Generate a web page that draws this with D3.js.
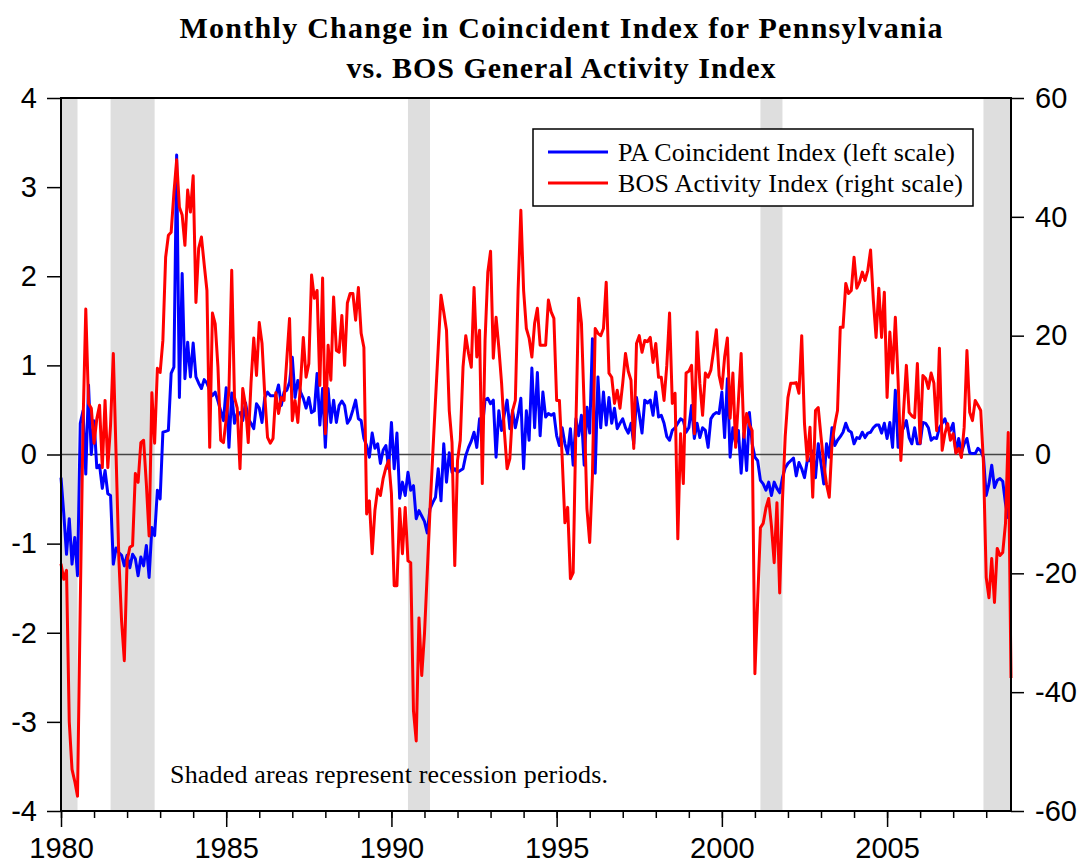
<!DOCTYPE html>
<html lang="en">
<head>
<meta charset="UTF-8">
<title>PA Coincident Index vs BOS Activity Index</title>
<script src="https://d3js.org/d3.v7.min.js"></script>
<style>
  body { margin: 0; background: #fff; }
  text { fill: #000; }
</style>
</head>
<body>
<script>
// monthly values, Jan 1980 onward
var paIndex = [
  -0.26, -0.66, -1.12, -0.72, -1.23, -0.93, -1.36, 0.35, 0.49, -0.22, 0.78, 0,
  0.38, -0.15, -0.12, -0.38, -0.18, -0.44, -0.46, -1.23, -1.05, -1.1, -1.13, -1.25,
  -1.13, -1.27, -1.12, -1.17, -1.36, -1.15, -1.25, -1.02, -1.38, -0.82, -0.91, -0.4,
  -0.5, 0.25, 0.26, 0.27, 0.91, 0.98, 3.36, 0.64, 2.03, 0.85, 1.26, 0.87,
  1.25, 0.87, 0.8, 0.74, 0.84, 0.8, 0.72, 0.66, 0.7, 0.6, 0.49, 0.38,
  0.75, 0.08, 0.69, 0.35, 0.46, 0.47, 0.38, 0.58, 0.4, 0.35, 0.29, 0.57,
  0.52, 0.36, 0.64, 0.7, 0.66, 0.66, 0.66, 0.78, 0.55, 0.7, 0.72, 0.81,
  1.09, 0.64, 0.83, 0.7, 0.63, 0.52, 0.64, 0.47, 0.49, 0.91, 0.33, 0.74,
  0.08, 0.74, 0.36, 0.61, 0.36, 0.55, 0.6, 0.55, 0.35, 0.4, 0.5, 0.61,
  0.4, 0.38, 0.18, 0.1, -0.03, 0.24, 0.07, 0.12, -0.1, 0.05, 0.1, -0.16,
  0.36, -0.16, 0.24, -0.49, -0.31, -0.46, -0.2, -0.4, -0.35, -0.72, -0.63, -0.69,
  -0.75, -0.88, -0.61, -0.54, -0.48, -0.16, -0.52, 0.12, -0.31, 0.02, -0.2, -0.16,
  -0.2, -0.18, -0.16, -0.01, 0.08, 0.15, 0.25, 0.08, 0.4, 0.3, 0.61, 0.63,
  0.57, 0.61, -0.03, 0.49, 0.27, 0.45, 0.61, 0.29, 0.49, 0.3, 0.45, 0.63,
  -0.16, 0.49, 0.16, 0.97, 0.3, 0.92, 0.21, 0.7, 0.42, 0.46, 0.44, 0.46,
  0.21, 0.1, 0.3, 0.12, 0.01, 0.29, -0.12, 0.4, 0.21, 0.44, -0.12, 0.53,
  0.24, 1.3, -0.21, 0.87, 0.3, 0.7, 0.33, 0.64, 0.35, 0.52, 0.29, 0.35,
  0.4, 0.3, 0.24, 0.35, 0.12, 0.64, 0.45, 0.24, 0.61, 0.58, 0.61, 0.44,
  0.7, 0.42, 0.44, 0.35, 0.2, 0.16, 0.27, 0.3, 0.35, 0.4, 0.38, 0.25,
  0.3, 0.55, 0.18, 0.35, 0.19, 0.3, 0.27, 0.08, 0.4, 0.45, 0.47, 0.46,
  0.7, 0.19, 0.85, -0.03, 0.3, 0.12, 0.27, -0.21, 0.24, -0.18, 0.47, 0.12,
  -0.03, -0.07, -0.29, -0.33, -0.4, -0.31, -0.46, -0.31, -0.38, -0.43, -0.26, -0.15,
  -0.1, -0.07, -0.04, -0.24, -0.09, -0.16, -0.26, -0.07, -0.07, 0.04, -0.26, 0.12,
  -0.1, -0.33, 0.12, -0.03, 0.3, 0.1, 0.16, 0.2, 0.25, 0.35, 0.27, 0.25,
  0.12, 0.19, 0.18, 0.25, 0.19, 0.24, 0.25, 0.3, 0.33, 0.33, 0.24, 0.35,
  0.18, 0.36, 0.08, 0.72, 0.08, 0.24, 0.3, 0.38, 0.19, 0.12, 0.3, 0.12,
  0.12, 0.36, 0.35, 0.3, 0.16, 0.19, 0.18, 0.3, 0.35, 0.4, 0.3, 0.27,
  0.35, 0.02, 0.18, 0.02, 0.12, 0.18, 0.02, 0.01, 0.01, 0.07, 0.04, -0.03,
  -0.46, -0.33, -0.12, -0.37, -0.29, -0.27, -0.3, -0.55, -0.72
];

var bosIndex = [
  -18.4, -21, -19.5, -45, -53, -55, -57.5, -25, 5, 24.5, 8.6, 7.8,
  1.9, 6, 8.3, -2.2, 9.1, -2.2, 5, 17, 0, -17.4, -28, -34.7,
  -17.9, -15.6, -15.3, -3.2, -4.7, 2, 2.4, -5, -13.7, 10.4, 1.9, 14.5,
  13.8, 19.2, 33.2, 36.9, 37.4, 44, 49.6, 41.6, 40.3, 35.2, 44.5, 40.8,
  46.9, 25.6, 34.7, 36.6, 32, 27.6, 1.2, 23.8, 22, 14.7, 2.4, 2,
  6, 10.8, 31, 9.6, 7.8, -2.4, 11.1, 8.3, 2, 12, 19.6, 13.3,
  22.2, 18.7, 10, 2.9, 1.9, 2.7, 10.4, 6.9, 9.6, 9.1, 16, 22.9,
  5.7, 9.1, 5.4, 12, 19.7, 13, 15.3, 30.2, 26.3, 27.6, 11.6, 29.7,
  3.5, 18.4, 12.5, 26.5, 17.5, 17.2, 23.4, 15, 25.5, 27.1, 27.1, 22.6,
  28.1, 20.4, 18, -10, -7.8, -16.7, -9.4, -5.8, -6.9, -4, -2.2, -1,
  -6.6, -22.1, -22.1, -9.1, -16.7, -8.9, -17.9, -18.2, -43.1, -48.2, -27.5, -37.2,
  -30.2, -20, -9.4, 0, 9.1, 18, 26.8, 24, 20.9, 7.4, 2, -18.7,
  -1, 2.4, 14.7, 20, 17, 14.7, 28.1, 16.4, 20.9, -4.9, 19.2, 30.7,
  34.2, 16.2, 23.1, 18, 12, 4, -2.4, -0.7, 7.4, 9.1, 27.6, 41.1,
  27.6, 21.2, 19.6, 16.4, 22.1, 24.6, 18.4, 18.4, 18.4, 26, 24, 22.9,
  9.1, 9.1, -0.5, -11.5, -8.9, -20.9, -19.9, 5, 26.3, 22.1, 8, -9.1,
  -14.8, -3.5, 21.2, 20.4, 20, 21.2, 29, 13.7, 13, 8.6, 10.8, 7.8,
  12, 17, 14, 12.5, 1, 18.7, 20, 17.2, 19.2, 19, 19.7, 15.5,
  18.7, 13, 13, 9.1, 15, 23.8, 8.6, 10.3, -14.2, 3.5, -4.9, 13.7,
  14, 15, 3.5, 20.6, 12, 6.6, 13.7, 13, 14.2, 17.5, 21, 13.3,
  11.1, 16.4, 19.6, 6.1, 13.7, 1.2, 9, 17, 2.9, 6.9, 5, 4,
  -36.9, -24.6, -12.3, -11.6, -9, -7.4, -12, -18.2, -8.1, -23.3, -7.8, 3,
  9.6, 12, 12, 12.1, 10.3, 20, 5.2, -1, 4.6, -7.2, 7.4, 7.9,
  3, -1.5, -5, -7.2, 1.9, 5, 7.4, 21.4, 21.4, 28.8, 27.1, 27.6,
  33.2, 28, 29, 30.7, 29.3, 31, 34.4, 26, 19.7, 28, 19.7, 27.3,
  9.6, 20.6, 13.7, 23.1, 12.5, -1, 7.4, 15, 7.1, 6.5, 6.2, 15.3,
  1.9, 13.3, 12.8, 11.1, 13.7, 12, 4, 17.9, 0.7, 3.5, 5.2, 2.4,
  3.5, 0.2, 1, -0.5, 4.6, 17.5, 7.1, 5.7, 9.1, 8.3, 7.4, -1.5,
  -20.7, -24.1, -17.5, -24.9, -15.8, -17, -16.5, -11.6, 3.7, -37.6
];

// recession periods as [start, end] month offsets from Jan 1980
var recessions = [[0, 6], [18, 34], [126, 134], [254, 262], [335, 345]];

var leftTicks = [-4, -3, -2, -1, 0, 1, 2, 3, 4];
var rightTicks = [-60, -40, -20, 0, 20, 40, 60];
var yearTicks = d3.range(1980, 2009);
var yearLabels = [1980, 1985, 1990, 1995, 2000, 2005];

var width = 1087, height = 865;
var plotLeft = 61, plotRight = 1011, plotTop = 98, plotBottom = 811;
var lastMonth = 345;

function monthToYear(i) { return 1980 + i / 12; }
// plain hyphen for negatives, like the original
function plainNumber(d) { return String(d); }

var x = d3.scaleLinear()
          .domain([1980, monthToYear(lastMonth)])
          .range([plotLeft, plotRight]);

var yLeft = d3.scaleLinear()
              .domain([-4, 4])
              .range([plotBottom, plotTop]);

var yRight = d3.scaleLinear()
               .domain([-60, 60])
               .range([plotBottom, plotTop]);

var svg = d3.select('body')
            .append('svg')
            .attr('width', width)
            .attr('height', height);

// recession shading
svg.selectAll('rect.recession')
   .data(recessions)
   .enter()
     .append('rect')
     .attr('class', 'recession')
     .attr('x', function(d) { return x(monthToYear(d[0])); })
     .attr('y', plotTop)
     .attr('width', function(d) { return x(monthToYear(d[1])) - x(monthToYear(d[0])); })
     .attr('height', plotBottom - plotTop)
     .attr('fill', '#dedede');

// zero line
svg.append('line')
   .attr('x1', plotLeft)
   .attr('x2', plotRight)
   .attr('y1', yLeft(0))
   .attr('y2', yLeft(0))
   .attr('stroke', '#444')
   .attr('stroke-width', 1.5);

var paLine = d3.line()
               .x(function(d, i) { return x(monthToYear(i)); })
               .y(function(d) { return yLeft(d); });

var bosLine = d3.line()
                .x(function(d, i) { return x(monthToYear(i)); })
                .y(function(d) { return yRight(d); });

svg.append('path')
   .datum(paIndex)
   .attr('d', paLine)
   .attr('fill', 'none')
   .attr('stroke', '#0000ff')
   .attr('stroke-width', 3)
   .attr('stroke-linejoin', 'round');

svg.append('path')
   .datum(bosIndex)
   .attr('d', bosLine)
   .attr('fill', 'none')
   .attr('stroke', '#ff0000')
   .attr('stroke-width', 3)
   .attr('stroke-linejoin', 'round');

// frame
svg.append('rect')
   .attr('x', plotLeft)
   .attr('y', plotTop)
   .attr('width', plotRight - plotLeft)
   .attr('height', plotBottom - plotTop)
   .attr('fill', 'none')
   .attr('stroke', '#000')
   .attr('stroke-width', 2);

// axes
var axisFont = '"Liberation Sans", Arial, sans-serif';

function styleAxis(g) {
  g.select('.domain').remove();
  g.selectAll('line').attr('stroke', '#000').attr('stroke-width', 1.5);
  g.selectAll('text').attr('font-family', axisFont).attr('font-size', 29).attr('fill', '#000');
}

svg.append('g')
   .attr('transform', 'translate(' + plotLeft + ',0)')
   .call(d3.axisLeft(yLeft).tickValues(leftTicks).tickSize(14).tickPadding(10).tickFormat(plainNumber))
   .call(styleAxis);

svg.append('g')
   .attr('transform', 'translate(' + plotRight + ',0)')
   .call(d3.axisRight(yRight).tickValues(rightTicks).tickSize(13).tickPadding(11).tickFormat(plainNumber))
   .call(styleAxis);

svg.append('g')
   .attr('transform', 'translate(0,' + plotBottom + ')')
   .call(d3.axisBottom(x).tickValues(yearTicks).tickSize(7).tickFormat(''))
   .call(styleAxis);

svg.append('g')
   .attr('transform', 'translate(0,' + plotBottom + ')')
   .call(d3.axisBottom(x).tickValues(yearLabels).tickSize(16).tickPadding(10).tickFormat(plainNumber))
   .call(styleAxis);

// title
var serif = '"Liberation Serif", "Times New Roman", serif';

svg.append('text')
   .attr('x', 561)
   .attr('y', 38)
   .attr('text-anchor', 'middle')
   .attr('font-family', serif)
   .attr('font-weight', 'bold')
   .attr('font-size', 30)
   .attr('textLength', 763)
   .attr('lengthAdjust', 'spacing')
   .text('Monthly Change in Coincident Index for Pennsylvania');

svg.append('text')
   .attr('x', 561)
   .attr('y', 78)
   .attr('text-anchor', 'middle')
   .attr('font-family', serif)
   .attr('font-weight', 'bold')
   .attr('font-size', 30)
   .attr('textLength', 429)
   .attr('lengthAdjust', 'spacing')
   .text('vs. BOS General Activity Index');

// legend
var legend = svg.append('g');

legend.append('rect')
      .attr('x', 533)
      .attr('y', 129)
      .attr('width', 440)
      .attr('height', 77)
      .attr('fill', '#fff')
      .attr('stroke', '#000')
      .attr('stroke-width', 1.5);

var legendItems = [
  { label: 'PA Coincident Index (left scale)', color: '#0000ff', y: 152, len: 337 },
  { label: 'BOS Activity Index (right scale)', color: '#ff0000', y: 183, len: 345 }
];

legend.selectAll('line.key')
      .data(legendItems)
      .enter()
        .append('line')
        .attr('x1', 548)
        .attr('x2', 608)
        .attr('y1', function(d) { return d.y; })
        .attr('y2', function(d) { return d.y; })
        .attr('stroke', function(d) { return d.color; })
        .attr('stroke-width', 3);

legend.selectAll('text.key')
      .data(legendItems)
      .enter()
        .append('text')
        .attr('x', 618)
        .attr('y', function(d) { return d.y + 9; })
        .attr('font-family', serif)
        .attr('font-size', 26)
        .attr('textLength', function(d) { return d.len; })
        .attr('lengthAdjust', 'spacing')
        .text(function(d) { return d.label; });

// note
svg.append('text')
   .attr('x', 170)
   .attr('y', 783)
   .attr('font-family', serif)
   .attr('font-size', 26)
   .attr('textLength', 438)
   .attr('lengthAdjust', 'spacing')
   .text('Shaded areas represent recession periods.');
</script>
</body>
</html>
